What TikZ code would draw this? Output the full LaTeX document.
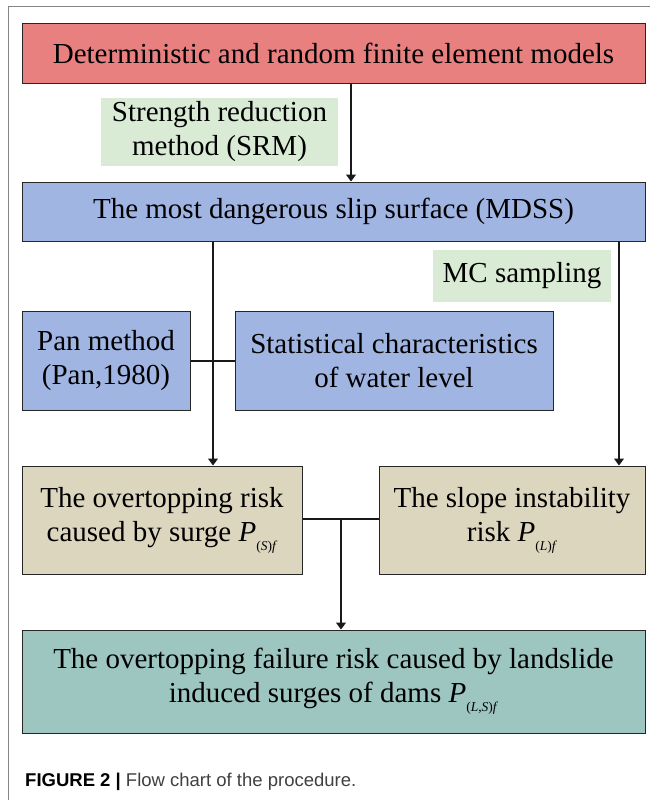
\documentclass[tikz,border=0pt]{standalone}
\usepackage{fontspec}
\setmainfont{Liberation Serif}
\newfontfamily\capfont{Liberation Sans}
\usetikzlibrary{arrows.meta}
\definecolor{redfill}{HTML}{E88080}
\definecolor{bluefill}{HTML}{A1B5E2}
\definecolor{greenfill}{HTML}{D9EBD4}
\definecolor{beigefill}{HTML}{DDD6BF}
\definecolor{tealfill}{HTML}{9DC6C1}
\definecolor{framegray}{HTML}{858585}
\newcommand{\Psub}[1]{\textit{P}\raisebox{-9pt}{\fontsize{13.5}{13.5}\selectfont #1}}
\tikzset{
  box/.style={draw=black!85, line width=1pt, inner sep=0pt, align=center,
    font=\fontsize{29}{34}\selectfont},
  redbox/.style={box, fill=redfill},
  bluebox/.style={box, fill=bluefill},
  beigebox/.style={box, fill=beigefill},
  tealbox/.style={box, fill=tealfill},
  labelbox/.style={fill=greenfill, inner sep=0pt, align=center,
    font=\fontsize{29}{34}\selectfont},
  conn/.style={line width=1.1pt, black!90},
  arr/.style={conn, -{Triangle[width=10pt,length=7pt]}},
}
\begin{document}
\begin{tikzpicture}[x=1pt,y=-1pt]
\useasboundingbox (0,0) rectangle (650,800);
\fill[white] (0,0) rectangle (650,800);
% frame
\draw[framegray, line width=1pt] (8,800) -- (8,7) -- (650,7);

\node[redbox, minimum width=623pt, minimum height=59pt] (red) at (333.5,53.5)
  {Deterministic and random finite element models};
\node[labelbox, minimum width=237pt, minimum height=68pt] (srm) at (219.5,132)
  {Strength reduction\\method (SRM)};
\node[bluebox, minimum width=623pt, minimum height=59pt] (mdss) at (333.5,211.5)
  {The most dangerous slip surface (MDSS)};
\node[labelbox, minimum width=178pt, minimum height=52pt] (mc) at (522,276)
  {MC sampling};
\node[bluebox, minimum width=168pt, minimum height=99pt] (pan) at (106,360.5)
  {Pan method\\(Pan,1980)};
\node[bluebox, minimum width=318pt, minimum height=99pt] (stat) at (394,360.5)
  {Statistical characteristics\\of water level};
\node[beigebox, minimum width=280pt, minimum height=108pt] (over) at (162,520)
  {The overtopping risk\\caused by surge \Psub{(\textit{S})\textit{f}}};
\node[beigebox, minimum width=266pt, minimum height=108pt] (slope) at (512,520)
  {The slope instability\\risk \Psub{(\textit{L})\textit{f}}};
\node[tealbox, minimum width=623pt, minimum height=103pt] (final) at (333.5,681.5)
  {The overtopping failure risk caused by landslide\\induced surges of dams \Psub{(\textit{L},\textit{S})\textit{f}}};

\node[anchor=west, inner sep=0pt, font=\capfont\fontsize{18.5}{18.5}\selectfont] (cap) at (25,782)
  {\textbf{FIGURE 2 |} {\color{black!75}Flow chart of the procedure.}};

% connectors
\coordinate (j1) at (341,519);
\coordinate (pj) at (213,361);
\draw[arr] (red.south -| 351,0) -- (mdss.north -| 351,0);
\draw[arr] (mdss.south -| 213,0) -- (over.north -| 213,0);
\draw[conn] (pan.east |- pj) -- (stat.west |- pj);
\draw[arr] (mdss.south -| 619,0) -- (slope.north -| 619,0);
\draw[conn] (over.east |- j1) -- (slope.west |- j1);
\draw[arr] (j1) -- (final.north -| j1);
\end{tikzpicture}
\end{document}
